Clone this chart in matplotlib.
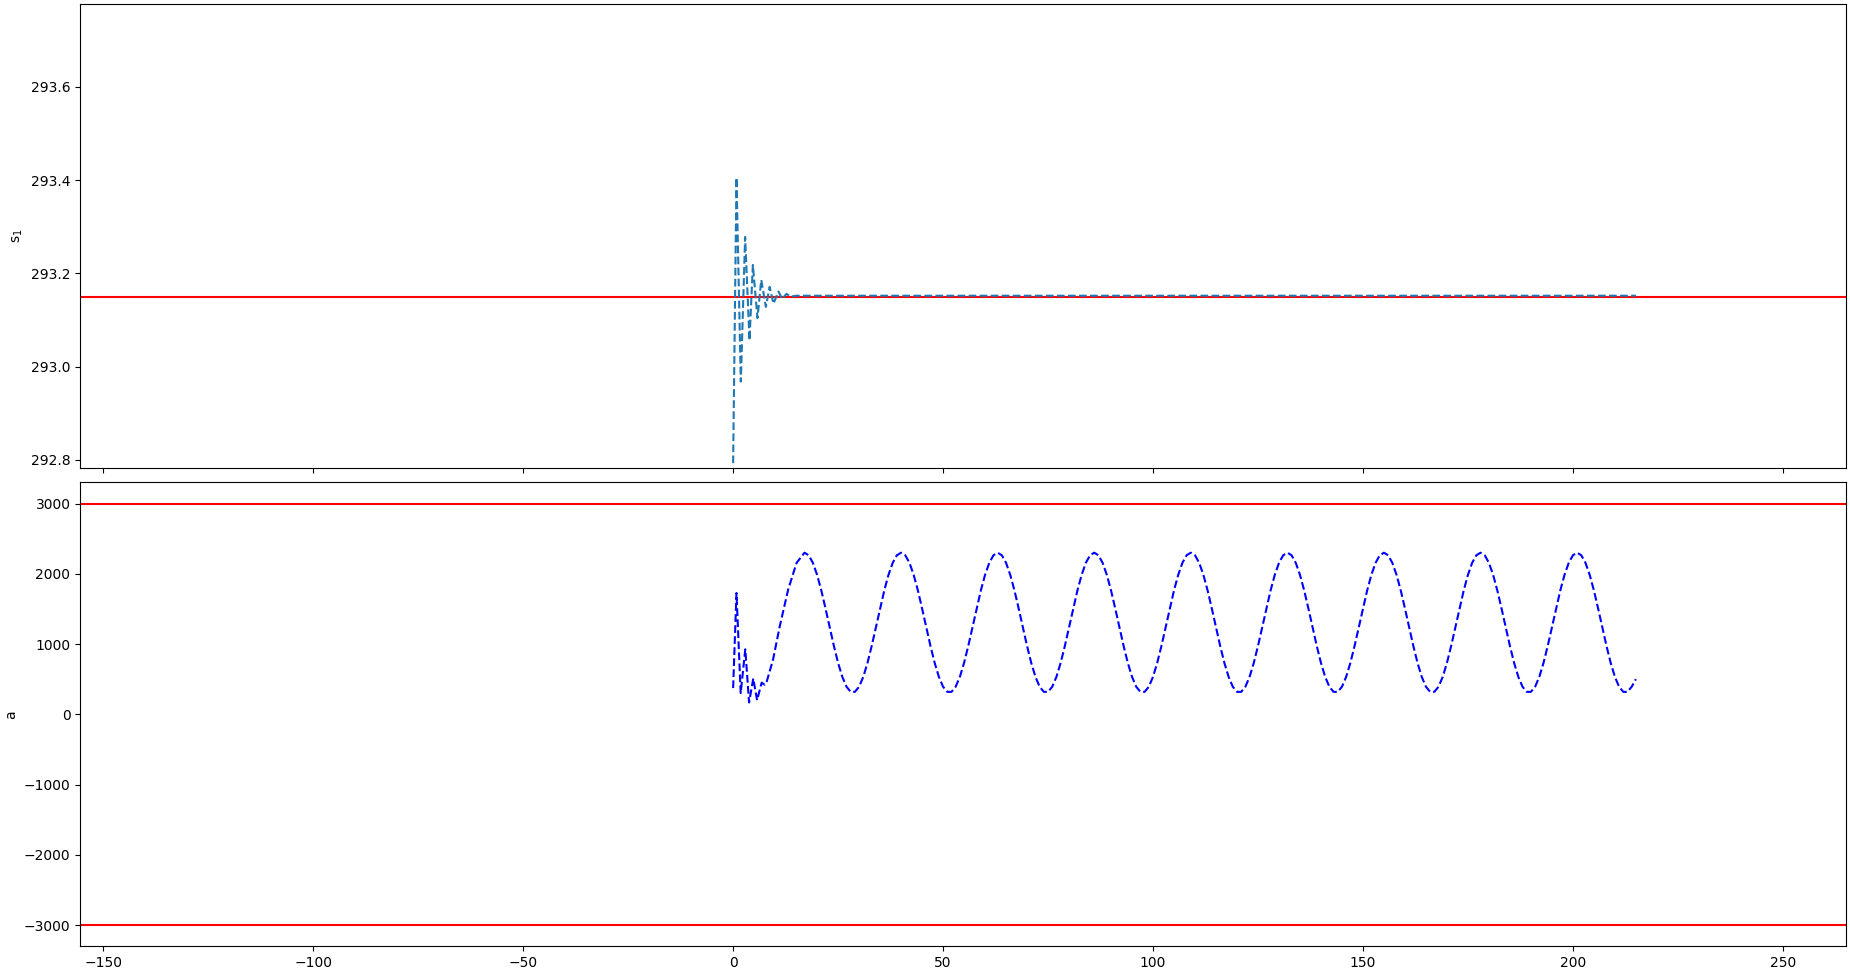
import matplotlib
matplotlib.use("Agg")
import matplotlib.pyplot as plt

# s_1 (top panel) - damped transient
t_s1 = [0, 0.8, 1.83, 2.86, 3.9, 4.7, 5.8, 6.7, 7.8, 8.7, 9.6, 10.8, 11.7,
        12.7, 13.7, 15, 215]
s1 = [292.793, 293.405, 292.968, 293.278, 293.056, 293.218, 293.104, 293.186,
      293.128, 293.171, 293.135, 293.161, 293.145, 293.156, 293.150, 293.152,
      293.152]
s1_ref = 293.15

# a (bottom panel) - transient then steady oscillation
t_a_start = [0, 0.8, 1.8, 2.9, 3.8, 4.8, 5.7, 6.8, 7.5, 7.9, 9.5, 11.1, 13.1, 15.1]
a_start = [373, 1726, 302, 925, 168, 510, 200, 450, 420, 444, 776, 1251, 1773, 2154]
a_steady = [
    2300, 2263, 2155, 1984, 1763, 1507, 1237, 972, 731, 533, 392, 319,
    319, 392, 533, 731, 972, 1237, 1507, 1763, 1984, 2155, 2263,
    2300, 2263, 2155, 1984, 1763, 1507, 1237, 972, 731, 533, 392, 319,
    319, 392, 533, 731, 972, 1237, 1507, 1763, 1984, 2155, 2263,
    2300, 2263, 2155, 1984, 1763, 1507, 1237, 972, 731, 533, 392, 319,
    319, 392, 533, 731, 972, 1237, 1507, 1763, 1984, 2155, 2263,
    2300, 2263, 2155, 1984, 1763, 1507, 1237, 972, 731, 533, 392, 319,
    319, 392, 533, 731, 972, 1237, 1507, 1763, 1984, 2155, 2263,
    2300, 2263, 2155, 1984, 1763, 1507, 1237, 972, 731, 533, 392, 319,
    319, 392, 533, 731, 972, 1237, 1507, 1763, 1984, 2155, 2263,
    2300, 2263, 2155, 1984, 1763, 1507, 1237, 972, 731, 533, 392, 319,
    319, 392, 533, 731, 972, 1237, 1507, 1763, 1984, 2155, 2263,
    2300, 2263, 2155, 1984, 1763, 1507, 1237, 972, 731, 533, 392, 319,
    319, 392, 533, 731, 972, 1237, 1507, 1763, 1984, 2155, 2263,
    2300, 2263, 2155, 1984, 1763, 1507, 1237, 972, 731, 533, 392, 319,
    319, 392, 533, 731, 972, 1237, 1507, 1763, 1984, 2155, 2263,
    2300, 2263, 2155, 1984, 1763, 1507, 1237, 972, 731, 533, 392, 319,
    319, 392, 500,
]
t_a_steady = list(range(17, 17 + len(a_steady)))
t_a = t_a_start + t_a_steady
a = a_start + a_steady
a_max = 3000
a_min = -3000

fig, (ax1, ax2) = plt.subplots(2, 1, sharex=True, figsize=(18.5, 9.74), dpi=100)

ax1.axhline(s1_ref, color='r')
ax1.plot(t_s1, s1, '--')
ax1.set_ylabel('s$_1$')
ax1.set_ylim(292.783, 293.777)

ax2.axhline(a_max, color='r')
ax2.axhline(a_min, color='r')
ax2.plot(t_a, a, 'b--')
ax2.set_ylabel('a')
ax2.set_ylim(-3300, 3300)
ax2.set_xlim(-155.5, 265)

plt.tight_layout(pad=0.3, h_pad=0.7)
plt.savefig('out.png')
